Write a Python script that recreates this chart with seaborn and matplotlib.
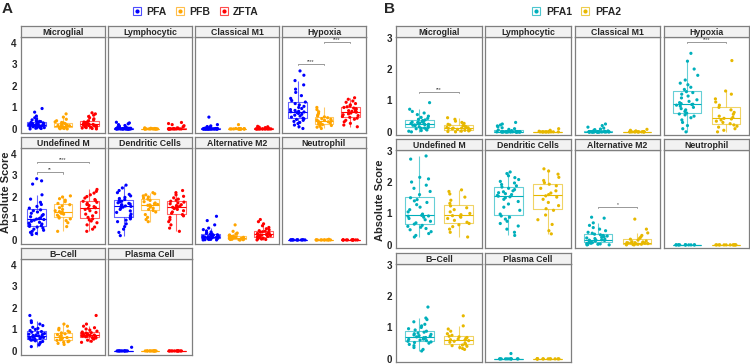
import numpy as np
import pandas as pd
import matplotlib
matplotlib.use("Agg")
import matplotlib.pyplot as plt
import seaborn as sns
from matplotlib.lines import Line2D
from matplotlib.legend_handler import HandlerTuple

cell_types = ["Microglial", "Lymphocytic", "Classical M1", "Hypoxia",
              "Undefined M", "Dendritic Cells", "Alternative M2", "Neutrophil",
              "B\u2212Cell", "Plasma Cell"]

# ---- panel A: PFA / PFB / ZFTA ----
pfa_mic = [0.0, 0.02, 0.03, 0.05, 0.06, 0.08, 0.09, 0.1, 0.1, 0.12, 0.13, 0.14, 0.15, 0.16, 0.17, 0.18, 0.19, 0.2,
           0.2, 0.21, 0.22, 0.24, 0.25, 0.26, 0.28, 0.3, 0.32, 0.34, 0.35, 0.38, 0.42, 0.46, 0.52, 0.6, 0.78, 0.95]
pfa_lym = [0.0, 0.0, 0.0, 0.0, 0.0, 0.0, 0.0, 0.0, 0.0, 0.0, 0.0, 0.0, 0.0, 0.0, 0.0, 0.0, 0.01, 0.01,
           0.01, 0.01, 0.01, 0.02, 0.02, 0.02, 0.03, 0.03, 0.04, 0.06, 0.08, 0.1, 0.13, 0.16, 0.2, 0.24, 0.28, 0.31]
pfa_cm1 = [0.0, 0.0, 0.0, 0.0, 0.0, 0.0, 0.0, 0.0, 0.0, 0.0, 0.0, 0.0, 0.0, 0.0, 0.0, 0.0, 0.0, 0.0,
           0.0, 0.0, 0.0, 0.0, 0.0, 0.0, 0.01, 0.01, 0.02, 0.02, 0.03, 0.04, 0.06, 0.08, 0.11, 0.14, 0.2, 0.55]
pfa_hyp = [0.02, 0.1, 0.18, 0.25, 0.3, 0.35, 0.4, 0.44, 0.47, 0.5, 0.55, 0.6, 0.64, 0.68, 0.72, 0.76, 0.79, 0.8,
           0.82, 0.86, 0.9, 0.95, 1.0, 1.05, 1.12, 1.18, 1.25, 1.32, 1.42, 1.55, 1.7, 1.85, 2.05, 2.25, 2.5, 2.7]
pfa_und = [0.25, 0.3, 0.35, 0.4, 0.45, 0.5, 0.55, 0.6, 0.63, 0.66, 0.7, 0.74, 0.78, 0.82, 0.87, 0.92, 0.95, 0.97,
           0.99, 1.03, 1.08, 1.13, 1.18, 1.24, 1.3, 1.36, 1.4, 1.48, 1.56, 1.65, 1.75, 1.9, 2.1, 2.6, 2.75, 2.85]
pfa_den = [0.2, 0.35, 0.5, 0.62, 0.75, 0.85, 0.92, 0.98, 1.03, 1.07, 1.12, 1.2, 1.28, 1.35, 1.42, 1.48, 1.53, 1.56,
           1.58, 1.61, 1.64, 1.67, 1.7, 1.73, 1.77, 1.8, 1.84, 1.88, 1.93, 1.98, 2.05, 2.12, 2.2, 2.3, 2.42, 2.55]
pfa_am2 = [0.0, 0.0, 0.01, 0.02, 0.03, 0.04, 0.05, 0.06, 0.07, 0.08, 0.09, 0.1, 0.11, 0.12, 0.13, 0.14, 0.15, 0.15,
           0.16, 0.17, 0.18, 0.19, 0.2, 0.22, 0.24, 0.26, 0.28, 0.3, 0.33, 0.37, 0.42, 0.48, 0.55, 0.7, 0.9, 1.1]
pfa_neu = [0.0, 0.0, 0.0, 0.0, 0.0, 0.0, 0.0, 0.0, 0.0, 0.0, 0.01, 0.01]
pfa_bce = [0.2, 0.28, 0.35, 0.4, 0.44, 0.47, 0.5, 0.52, 0.54, 0.56, 0.58, 0.6, 0.62, 0.63, 0.64, 0.65, 0.66, 0.68,
           0.7, 0.72, 0.74, 0.76, 0.78, 0.81, 0.84, 0.87, 0.9, 0.95, 1.0, 1.05, 1.1, 1.18, 1.25, 1.32, 1.4, 1.65]
pfa_pla = [0.0, 0.0, 0.0, 0.0, 0.0, 0.0, 0.0, 0.0, 0.0, 0.0, 0.0, 0.17]

pfb_mic = [0.0, 0.01, 0.02, 0.04, 0.05, 0.06, 0.08, 0.1, 0.12, 0.13, 0.14, 0.15,
           0.16, 0.18, 0.2, 0.22, 0.25, 0.28, 0.3, 0.33, 0.38, 0.45, 0.55, 0.7]
pfb_lym = [0.0, 0.0, 0.0, 0.0, 0.0, 0.0, 0.0, 0.0, 0.0, 0.0, 0.0, 0.0, 0.01, 0.02, 0.03, 0.05]
pfb_cm1 = [0.0, 0.0, 0.0, 0.0, 0.0, 0.0, 0.0, 0.0, 0.0, 0.0, 0.0, 0.0, 0.0, 0.01, 0.02, 0.2]
pfb_hyp = [0.02, 0.08, 0.12, 0.16, 0.2, 0.22, 0.25, 0.28, 0.3, 0.33, 0.36, 0.38,
           0.4, 0.42, 0.45, 0.48, 0.52, 0.56, 0.6, 0.65, 0.72, 0.8, 0.9, 1.0]
pfb_und = [0.4, 0.62, 0.8, 0.9, 0.98, 1.02, 1.08, 1.15, 1.2, 1.24, 1.27, 1.29,
           1.32, 1.36, 1.42, 1.5, 1.58, 1.64, 1.7, 1.78, 1.85, 1.92, 2.0, 2.05]
pfb_den = [0.85, 0.95, 1.05, 1.18, 1.3, 1.37, 1.42, 1.48, 1.53, 1.58, 1.61, 1.63,
           1.65, 1.68, 1.72, 1.78, 1.84, 1.9, 1.95, 2.0, 2.05, 2.1, 2.15, 2.2]
pfb_am2 = [0.0, 0.0, 0.01, 0.02, 0.03, 0.04, 0.05, 0.06, 0.07, 0.08, 0.09, 0.1,
           0.1, 0.11, 0.12, 0.14, 0.16, 0.18, 0.2, 0.23, 0.27, 0.32, 0.4, 0.7]
pfb_neu = [0.0, 0.0, 0.0, 0.0, 0.0, 0.0, 0.0, 0.0, 0.0, 0.0, 0.0, 0.03]
pfb_bce = [0.3, 0.35, 0.4, 0.43, 0.46, 0.49, 0.52, 0.55, 0.57, 0.59, 0.6, 0.62,
           0.65, 0.68, 0.72, 0.76, 0.8, 0.84, 0.88, 0.92, 0.98, 1.05, 1.15, 1.25]
pfb_pla = [0.0, 0.0, 0.0, 0.0, 0.0, 0.0, 0.0, 0.0, 0.0, 0.0, 0.0, 0.0]

zfta_mic = [0.0, 0.02, 0.04, 0.06, 0.08, 0.1, 0.11, 0.12, 0.14, 0.16, 0.17, 0.18, 0.19, 0.2, 0.21,
            0.22, 0.24, 0.26, 0.28, 0.3, 0.32, 0.35, 0.38, 0.42, 0.47, 0.52, 0.58, 0.64, 0.7, 0.75]
zfta_lym = [0.0, 0.0, 0.0, 0.0, 0.0, 0.0, 0.0, 0.0, 0.0, 0.0, 0.0, 0.0, 0.0,
            0.02, 0.05, 0.1, 0.15, 0.2, 0.25, 0.3]
zfta_cm1 = [0.0, 0.0, 0.0, 0.0, 0.0, 0.0, 0.0, 0.0, 0.0, 0.0, 0.0, 0.0, 0.0, 0.0,
            0.02, 0.04, 0.06, 0.08, 0.1, 0.12]
zfta_hyp = [0.1, 0.18, 0.26, 0.33, 0.4, 0.45, 0.5, 0.54, 0.58, 0.62, 0.66, 0.7, 0.74, 0.78, 0.8,
            0.82, 0.85, 0.88, 0.91, 0.94, 0.97, 1.0, 1.03, 1.07, 1.12, 1.18, 1.24, 1.3, 1.38, 1.45]
zfta_und = [0.4, 0.5, 0.6, 0.7, 0.8, 0.88, 0.93, 0.98, 1.05, 1.12, 1.2, 1.28, 1.36, 1.42, 1.47,
            1.5, 1.55, 1.6, 1.65, 1.7, 1.75, 1.8, 1.84, 1.88, 1.95, 2.02, 2.1, 2.18, 2.26, 2.35]
zfta_den = [0.4, 0.55, 0.7, 0.85, 0.95, 1.05, 1.12, 1.18, 1.24, 1.3, 1.36, 1.42, 1.46, 1.5, 1.52,
            1.54, 1.57, 1.6, 1.64, 1.68, 1.72, 1.76, 1.8, 1.85, 1.9, 1.96, 2.03, 2.1, 2.2, 2.3]
zfta_am2 = [0.0, 0.02, 0.04, 0.06, 0.08, 0.1, 0.12, 0.14, 0.16, 0.18, 0.2, 0.22, 0.24, 0.25, 0.26,
            0.28, 0.3, 0.32, 0.34, 0.36, 0.38, 0.4, 0.43, 0.47, 0.52, 0.58, 0.66, 0.75, 0.85, 0.95]
zfta_neu = [0.0, 0.0, 0.0, 0.0, 0.0, 0.0, 0.0, 0.0, 0.0, 0.0, 0.0, 0.0]
zfta_bce = [0.4, 0.45, 0.5, 0.55, 0.58, 0.6, 0.62, 0.64, 0.66, 0.68, 0.69, 0.7, 0.71, 0.72, 0.73,
            0.74, 0.75, 0.77, 0.79, 0.81, 0.83, 0.85, 0.88, 0.92, 0.97, 1.02, 1.08, 1.15, 1.25, 1.65]
zfta_pla = [0.0, 0.0, 0.0, 0.0, 0.0, 0.0, 0.0, 0.0, 0.0, 0.0, 0.0, 0.0]

# ---- panel B: PFA1 / PFA2 ----
pfa1_mic = [0.0, 0.02, 0.04, 0.06, 0.08, 0.1, 0.11, 0.12, 0.14, 0.16, 0.18, 0.2, 0.21, 0.22, 0.23, 0.24, 0.25, 0.26,
            0.27, 0.28, 0.29, 0.3, 0.31, 0.32, 0.34, 0.36, 0.38, 0.4, 0.43, 0.46, 0.5, 0.55, 0.6, 0.65, 0.72, 0.93]
pfa1_lym = [0.0, 0.0, 0.0, 0.0, 0.0, 0.0, 0.0, 0.0, 0.0, 0.0, 0.0, 0.0, 0.0, 0.0, 0.0, 0.0, 0.0, 0.0,
            0.0, 0.0, 0.0, 0.0, 0.0, 0.0, 0.01, 0.02, 0.04, 0.06, 0.08, 0.1, 0.13, 0.16, 0.19, 0.22, 0.25, 0.3]
pfa1_cm1 = [0.0, 0.0, 0.0, 0.0, 0.0, 0.0, 0.0, 0.0, 0.0, 0.0, 0.0, 0.0, 0.0, 0.0, 0.0, 0.0, 0.0, 0.0,
            0.0, 0.0, 0.0, 0.0, 0.0, 0.0, 0.0, 0.0, 0.01, 0.02, 0.03, 0.05, 0.07, 0.09, 0.12, 0.15, 0.2, 0.25]
pfa1_hyp = [0.0, 0.1, 0.2, 0.3, 0.38, 0.45, 0.5, 0.54, 0.57, 0.6, 0.65, 0.7, 0.74, 0.78, 0.82, 0.85, 0.87, 0.88,
            0.9, 0.93, 0.97, 1.02, 1.08, 1.14, 1.2, 1.25, 1.28, 1.35, 1.42, 1.5, 1.55, 1.65, 1.8, 2.0, 2.25, 2.5]
pfa1_und = [0.25, 0.3, 0.36, 0.42, 0.48, 0.52, 0.56, 0.59, 0.62, 0.66, 0.7, 0.75, 0.8, 0.84, 0.88, 0.91, 0.92, 0.94,
            0.98, 1.05, 1.12, 1.2, 1.28, 1.35, 1.4, 1.44, 1.5, 1.6, 1.7, 1.8, 1.9, 2.0, 2.1, 2.15, 2.73, 2.83]
pfa1_den = [0.3, 0.4, 0.5, 0.6, 0.68, 0.75, 0.82, 0.88, 0.92, 0.98, 1.1, 1.2, 1.3, 1.38, 1.45, 1.5, 1.53, 1.55,
            1.57, 1.6, 1.63, 1.66, 1.69, 1.72, 1.76, 1.8, 1.84, 1.88, 1.92, 1.97, 2.02, 2.08, 2.14, 2.2, 2.27, 2.32]
pfa1_am2 = [0.0, 0.0, 0.01, 0.02, 0.03, 0.04, 0.05, 0.06, 0.07, 0.08, 0.1, 0.11, 0.12, 0.13, 0.14, 0.15, 0.15, 0.16,
            0.18, 0.2, 0.22, 0.24, 0.26, 0.28, 0.3, 0.32, 0.34, 0.37, 0.4, 0.45, 0.5, 0.55, 0.62, 0.7, 0.85, 0.88]
pfa1_neu = [0.0, 0.0, 0.0, 0.0, 0.0, 0.0, 0.0, 0.0, 0.0, 0.0, 0.0, 0.0]
pfa1_bce = [0.25, 0.3, 0.36, 0.42, 0.46, 0.5, 0.52, 0.54, 0.56, 0.58, 0.6, 0.62, 0.63, 0.64, 0.65, 0.66, 0.67, 0.68,
            0.7, 0.72, 0.74, 0.76, 0.78, 0.8, 0.82, 0.85, 0.88, 0.92, 0.96, 1.0, 1.05, 1.1, 1.18, 1.25, 1.3, 1.65]
pfa1_pla = [0.0, 0.0, 0.0, 0.0, 0.0, 0.0, 0.0, 0.0, 0.0, 0.0, 0.0, 0.17]

pfa2_mic = [0.0, 0.01, 0.02, 0.03, 0.05, 0.06, 0.07, 0.08, 0.1, 0.11, 0.12, 0.12,
            0.13, 0.14, 0.16, 0.18, 0.2, 0.22, 0.24, 0.27, 0.3, 0.34, 0.4, 0.45]
pfa2_lym = [0.0, 0.0, 0.0, 0.0, 0.0, 0.0, 0.0, 0.0, 0.0, 0.0, 0.0, 0.0, 0.01, 0.02, 0.05, 0.1]
pfa2_cm1 = [0.0, 0.0, 0.0, 0.0, 0.0, 0.0, 0.0, 0.0, 0.0, 0.0, 0.0, 0.0, 0.01, 0.03, 0.05, 0.08]
pfa2_hyp = [0.0, 0.05, 0.1, 0.15, 0.18, 0.22, 0.26, 0.3, 0.34, 0.38, 0.41, 0.43,
            0.46, 0.5, 0.56, 0.62, 0.7, 0.78, 0.85, 0.95, 1.05, 1.2, 1.3, 2.27]
pfa2_und = [0.25, 0.4, 0.5, 0.58, 0.64, 0.68, 0.72, 0.78, 0.84, 0.88, 0.91, 0.93,
            0.96, 1.0, 1.05, 1.12, 1.18, 1.24, 1.32, 1.42, 1.52, 1.62, 1.7, 1.75]
pfa2_den = [0.35, 0.45, 0.65, 0.8, 0.95, 1.1, 1.15, 1.25, 1.35, 1.45, 1.52, 1.56,
            1.6, 1.65, 1.72, 1.8, 1.88, 1.93, 1.98, 2.05, 2.15, 2.25, 2.35, 2.42]
pfa2_am2 = [0.0, 0.0, 0.01, 0.02, 0.02, 0.03, 0.04, 0.05, 0.06, 0.06, 0.07, 0.07,
            0.08, 0.09, 0.1, 0.12, 0.15, 0.18, 0.21, 0.25, 0.3, 0.38, 0.5, 0.82]
pfa2_neu = [0.0, 0.0, 0.0, 0.0, 0.0, 0.0, 0.0, 0.0, 0.0, 0.0, 0.0, 0.0]
pfa2_bce = [0.3, 0.33, 0.36, 0.4, 0.42, 0.44, 0.47, 0.5, 0.53, 0.56, 0.58, 0.6,
            0.61, 0.63, 0.65, 0.68, 0.7, 0.72, 0.75, 0.8, 0.88, 0.95, 1.05, 1.37]
pfa2_pla = [0.0, 0.0, 0.0, 0.0, 0.0, 0.0, 0.0, 0.0, 0.0, 0.0, 0.0, 0.0]

groups_a = ["PFA", "PFB", "ZFTA"]
groups_b = ["PFA1", "PFA2"]
colors_a = ["#0000FF", "#FFA500", "#FF0000"]
colors_b = ["#00AFBB", "#E7B800"]

# significance brackets: (cell type, group 1, group 2, bracket height, label)
sig_a = [("Hypoxia", "PFA", "PFB", 3.04, "****"),
         ("Hypoxia", "PFB", "ZFTA", 4.05, "****"),
         ("Undefined M", "PFA", "PFB", 3.14, "**"),
         ("Undefined M", "PFA", "ZFTA", 3.63, "****")]
sig_b = [("Microglial", "PFA1", "PFA2", 1.27, "***"),
         ("Hypoxia", "PFA1", "PFA2", 2.86, "****"),
         ("Alternative M2", "PFA1", "PFA2", 1.21, "*")]

data_a = {
    "PFA": [pfa_mic, pfa_lym, pfa_cm1, pfa_hyp, pfa_und, pfa_den, pfa_am2, pfa_neu, pfa_bce, pfa_pla],
    "PFB": [pfb_mic, pfb_lym, pfb_cm1, pfb_hyp, pfb_und, pfb_den, pfb_am2, pfb_neu, pfb_bce, pfb_pla],
    "ZFTA": [zfta_mic, zfta_lym, zfta_cm1, zfta_hyp, zfta_und, zfta_den, zfta_am2, zfta_neu, zfta_bce, zfta_pla],
}
data_b = {
    "PFA1": [pfa1_mic, pfa1_lym, pfa1_cm1, pfa1_hyp, pfa1_und, pfa1_den, pfa1_am2, pfa1_neu, pfa1_bce, pfa1_pla],
    "PFA2": [pfa2_mic, pfa2_lym, pfa2_cm1, pfa2_hyp, pfa2_und, pfa2_den, pfa2_am2, pfa2_neu, pfa2_bce, pfa2_pla],
}


def long_table(data):
    rows = []
    for grp, per_cell in data.items():
        for cell, vals in zip(cell_types, per_cell):
            for v in vals:
                rows.append((cell, grp, v))
    return pd.DataFrame(rows, columns=["cell", "group", "score"])


W, H = 750, 364


def px(x, y, w, h):
    return [x / W, 1 - (y + h) / H, w / W, h / H]


FRAME = "#7F7F7F"


def draw_panel(fig, df, order, palette, ylim, yticks, cols, rows, strip_h, plot_h, sigs):
    axes = {}
    for i, cell in enumerate(cell_types):
        r, c = divmod(i, 4)
        left, right = cols[c]
        top = rows[r]
        ax = fig.add_axes(px(left, top + strip_h, right - left, plot_h))
        sub = df[df["cell"] == cell]
        sns.boxplot(data=sub, x="group", y="score", hue="group", order=order, hue_order=order,
                    palette=palette, fill=False, width=0.72, showfliers=False, showcaps=False,
                    linewidth=0.8, legend=False, ax=ax,
                    boxprops={"alpha": 0.6}, whiskerprops={"alpha": 0.6})
        sns.stripplot(data=sub, x="group", y="score", hue="group", order=order, hue_order=order,
                      palette=palette, jitter=0.3, size=2.3, linewidth=0, legend=False, ax=ax)
        ax.set_xlim(-0.6, len(order) - 0.4)
        ax.set_ylim(*ylim)
        ax.set_yticks(yticks)
        ax.set_xticks([])
        ax.set_xlabel("")
        ax.set_ylabel("")
        for s in ax.spines.values():
            s.set_color(FRAME)
            s.set_linewidth(0.9)
        if c == 0:
            ax.tick_params(axis="y", length=2, width=0.6, pad=1, labelsize=7)
            for t in ax.get_yticklabels():
                t.set_fontweight("bold")
        else:
            ax.tick_params(axis="y", left=False, labelleft=False)
        # facet strip
        sax = fig.add_axes(px(left, top, right - left, strip_h))
        sax.set_facecolor("#F2F2F2")
        sax.set_xticks([])
        sax.set_yticks([])
        for s in sax.spines.values():
            s.set_color(FRAME)
            s.set_linewidth(0.9)
        sax.text(0.5, 0.45, cell, ha="center", va="center", fontsize=6.3,
                 fontweight="bold", transform=sax.transAxes)
        axes[cell] = ax

    for cell, g1, g2, y, label in sigs:
        ax = axes[cell]
        x1, x2 = order.index(g1), order.index(g2)
        d = (ylim[1] - ylim[0]) * 0.012
        ax.plot([x1, x1, x2, x2], [y - d, y, y, y - d], color="#888888", lw=0.6)
        ax.text((x1 + x2) / 2, y, label, ha="center", va="bottom", fontsize=3.5, color="#333333")


sns.set_style("white")
plt.rcParams["font.family"] = ["Liberation Sans", "DejaVu Sans"]
np.random.seed(7)

fig = plt.figure(figsize=(7.5, 3.64), dpi=100)

df_a = long_table(data_a)
df_b = long_table(data_b)

draw_panel(fig, df_a, groups_a, colors_a, (-0.19, 4.28), [0, 1, 2, 3, 4],
           [(21, 105), (108, 192), (195, 279), (282, 366)], [26, 137, 248], 11, 96, sig_a)
draw_panel(fig, df_b, groups_b, colors_b, (-0.1, 3.02), [0, 1, 2, 3],
           [(396, 482), (485, 571), (575, 660), (664, 749)], [26, 139, 253], 11, 98, sig_b)

fig.text(7 / W, 1 - 9 / H, "A", fontsize=11, fontweight="bold", ha="center", va="center")
fig.text(389 / W, 1 - 9 / H, "B", fontsize=11, fontweight="bold", ha="center", va="center")
fig.text(6 / W, 1 - 192 / H, "Absolute Score", rotation=90, fontsize=8, fontweight="bold",
         ha="center", va="center")
fig.text(380 / W, 1 - 200 / H, "Absolute Score", rotation=90, fontsize=8, fontweight="bold",
         ha="center", va="center")


def legend_handles(colors):
    hs = []
    for c in colors:
        box = Line2D([], [], marker="s", ms=6, mfc="none", mec=c, mew=0.8, ls="", alpha=0.7)
        dot = Line2D([], [], marker="o", ms=2, color=c, ls="")
        hs.append((box, dot))
    return hs


for colors, names, cx in [(colors_a, groups_a, 195), (colors_b, groups_b, 576)]:
    fig.legend(legend_handles(colors), names, loc="center", bbox_to_anchor=(cx / W, 1 - 12 / H),
               ncol=len(names), frameon=False, handler_map={tuple: HandlerTuple(ndivide=1)},
               prop={"weight": "bold", "size": 7.5}, handlelength=1.0, handletextpad=0.4,
               columnspacing=0.8, borderaxespad=0)

fig.savefig("out.png", dpi=100)
